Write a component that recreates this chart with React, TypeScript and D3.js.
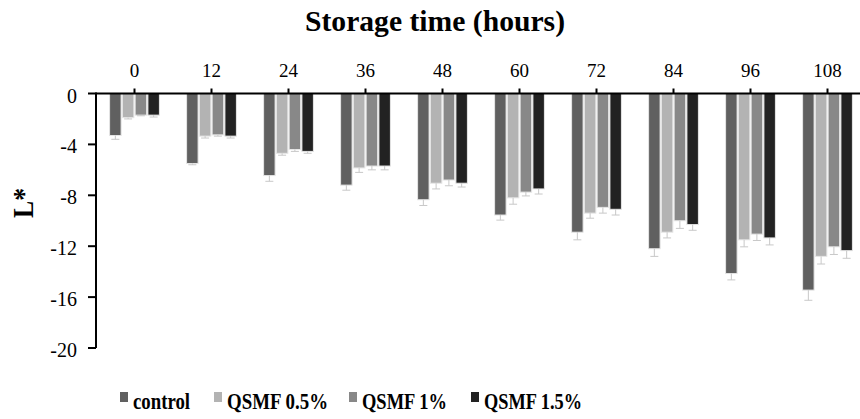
import React from "react"
import * as d3 from "d3"

const hours = ["0", "12", "24", "36", "48", "60", "72", "84", "96", "108"]
const seriesNames = ["control", "QSMF 0.5%", "QSMF 1%", "QSMF 1.5%"]
const seriesColors = ["#606060", "#b3b3b3", "#888888", "#222222"]

const controlValues = [-3.3, -5.5, -6.45, -7.2, -8.35, -9.55, -10.9, -12.2, -14.15, -15.45]
const qsmf05Values = [-1.9, -3.35, -4.7, -5.85, -7.05, -8.2, -9.4, -10.9, -11.5, -12.8]
const qsmf1Values = [-1.7, -3.25, -4.4, -5.7, -6.8, -7.75, -8.95, -10.0, -11.05, -12.05]
const qsmf15Values = [-1.7, -3.35, -4.55, -5.7, -7.05, -7.5, -9.1, -10.3, -11.35, -12.35]

const controlErr = [0.3, 0.1, 0.45, 0.4, 0.45, 0.4, 0.6, 0.6, 0.5, 0.8]
const qsmf05Err = [0.1, 0.15, 0.15, 0.35, 0.45, 0.5, 0.4, 0.45, 0.55, 0.6]
const qsmf1Err = [0.05, 0.1, 0.15, 0.3, 0.45, 0.3, 0.45, 0.6, 0.5, 0.6]
const qsmf15Err = [0.15, 0.15, 0.15, 0.3, 0.3, 0.4, 0.45, 0.45, 0.55, 0.6]

const yTicks = [0, -4, -8, -12, -16, -20]

const FONT = "Liberation Serif"

const left = 96
const right = 866
const top = 93.5
const bottom = 348

export default function App() {
  const values = [controlValues, qsmf05Values, qsmf1Values, qsmf15Values]
  const errs = [controlErr, qsmf05Err, qsmf1Err, qsmf15Err]

  const x = d3.scaleBand().domain(hours).range([left, right]).paddingInner(0.32).paddingOuter(0.16)
  const xs = d3.scaleBand().domain(seriesNames).range([0, x.bandwidth()]).padding(0.1)
  const y = d3.scaleLinear().domain([0, -20]).range([top, bottom])

  // legend layout: square x and text width
  const legendX = [120, 214, 349, 471]
  const legendW = [57, 101, 85, 98]

  return (
    <svg width={860} height={419} style={{ position: "absolute", left: 0, top: 0, background: "#fff" }}>
      {/* bars */}
      {seriesNames.map((name, si) => (
        <g key={name}>
          {hours.map((h, i) => {
            const bx = (x(h) || 0) + (xs(name) || 0)
            const cx = bx + xs.bandwidth() / 2
            const y1 = y(values[si][i])
            const y2 = y(values[si][i] - errs[si][i])
            return (
              <g key={h}>
                <rect x={bx} y={y(0)} width={xs.bandwidth()} height={y1 - y(0)}
                  fill={seriesColors[si]} stroke="#e6e6e6" strokeWidth={1} />
                <line x1={cx} x2={cx} y1={y1} y2={y2} stroke="#c8c8c8" strokeWidth={1} />
                <line x1={cx - 4} x2={cx + 4} y1={y2} y2={y2} stroke="#c8c8c8" strokeWidth={1} />
              </g>
            )
          })}
        </g>
      ))}

      {/* y axis */}
      <line x1={left} x2={left} y1={top - 1} y2={bottom} stroke="#000" strokeWidth={2} />
      {yTicks.map(t => (
        <g key={t}>
          <line x1={left - 8} x2={left} y1={y(t)} y2={y(t)} stroke="#000" strokeWidth={2} />
          <text x={left - 19} y={y(t) + 9} textAnchor="end"
            style={{ fontFamily: FONT, fontSize: "20px" }} fill="#000">{t}</text>
        </g>
      ))}

      {/* x axis on top */}
      <line x1={left} x2={right} y1={top} y2={top} stroke="#000" strokeWidth={2} />
      {hours.map(h => {
        const cx = (x(h) || 0) + x.bandwidth() / 2
        return (
          <g key={h}>
            <line x1={cx} x2={cx} y1={top - 5} y2={top} stroke="#000" strokeWidth={2} />
            <text x={cx} y={77} textAnchor="middle"
              style={{ fontFamily: FONT, fontSize: "19px" }} fill="#000">{h}</text>
          </g>
        )
      })}

      {/* title */}
      <text x={435} y={31} textAnchor="middle" textLength={260} lengthAdjust="spacingAndGlyphs"
        style={{ fontFamily: FONT, fontWeight: "bold", fontSize: "30px" }} fill="#000">
        Storage time  (hours)
      </text>

      {/* y label */}
      <text transform="translate(33,203) rotate(-90)" textAnchor="middle"
        textLength={30} lengthAdjust="spacingAndGlyphs"
        style={{ fontFamily: FONT, fontWeight: "bold", fontSize: "30px" }} fill="#000">L*</text>

      {/* legend */}
      {seriesNames.map((name, i) => (
        <g key={name}>
          <rect x={legendX[i]} y={392} width={8} height={10} fill={seriesColors[i]} />
          <text x={legendX[i] + 13} y={409} textLength={legendW[i]} lengthAdjust="spacingAndGlyphs"
            style={{ fontFamily: FONT, fontWeight: "bold", fontSize: "24px" }} fill="#000">{name}</text>
        </g>
      ))}
    </svg>
  )
}
